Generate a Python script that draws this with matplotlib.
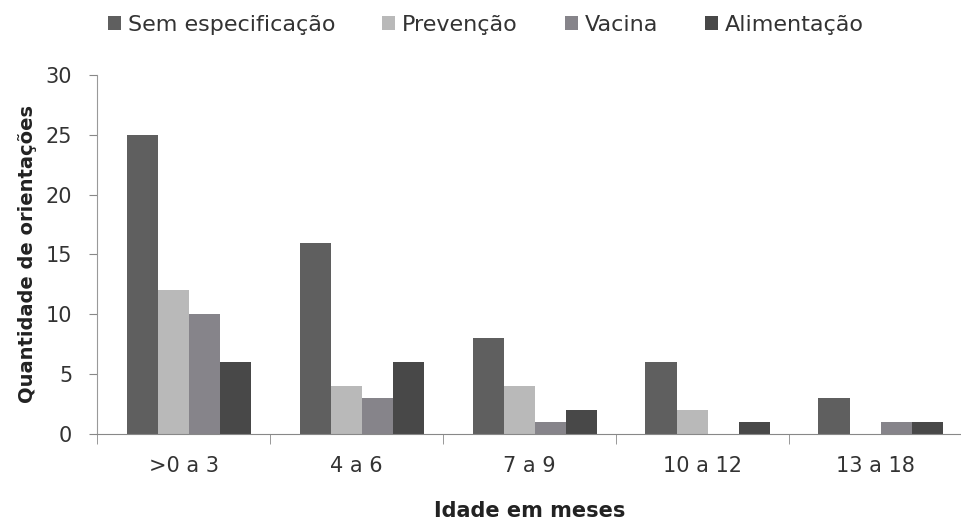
import matplotlib.pyplot as plt
import numpy as np

plt.rcParams['font.family'] = ['DejaVu Sans']

faixas = ['>0 a 3', '4 a 6', '7 a 9', '10 a 12', '13 a 18']
series = ['Sem especificação', 'Prevenção', 'Vacina', 'Alimentação']
sem_especificacao = [25, 16, 8, 6, 3]
prevencao = [12, 4, 4, 2, 0]
vacina = [10, 3, 1, 0, 1]
alimentacao = [6, 6, 2, 1, 1]
cores = ['#5f5f5f', '#b9b9b9', '#86848a', '#484848']

fig = plt.figure(figsize=(9.62, 5.22), dpi=100)
ax = fig.add_axes([0.101, 0.169, 0.899, 0.687])

x = np.arange(len(faixas))
w = 0.18
valores = [sem_especificacao, prevencao, vacina, alimentacao]
for i, (nome, v) in enumerate(zip(series, valores)):
    ax.bar(x + (i - 1.5) * w + 0.03, v, w, color=cores[i], label=nome)

ax.set_xlim(-0.5, len(faixas) - 0.5)
ax.set_ylim(0, 30)
ax.set_yticks(range(0, 31, 5))
ax.set_xticks(x)
ax.set_xticklabels(faixas)
ax.set_xticks(np.arange(-0.5, len(faixas), 1), minor=True)
ax.tick_params(axis='x', which='major', length=0, pad=16, labelsize=15, colors='#333333')
ax.tick_params(axis='x', which='minor', length=7, color='#888888')
ax.tick_params(axis='y', length=6, color='#888888', labelsize=15, pad=12, labelcolor='#333333')

for s in ['top', 'right']:
    ax.spines[s].set_visible(False)
ax.spines['left'].set_color('#999999')
ax.spines['bottom'].set_color('#888888')

ax.set_xlabel('Idade em meses', fontsize=15, fontweight='bold', labelpad=18, color='#222222')
ax.set_ylabel('Quantidade de orientações', fontsize=14, fontweight='bold', labelpad=6, color='#222222')

fig.legend(loc='upper center', bbox_to_anchor=(0.505, 1.01), ncol=4, frameon=False,
           fontsize=16, handlelength=0.6, handleheight=0.6, handletextpad=0.3,
           columnspacing=2.1, labelcolor='#333333')

fig.savefig('out.png', dpi=100)
